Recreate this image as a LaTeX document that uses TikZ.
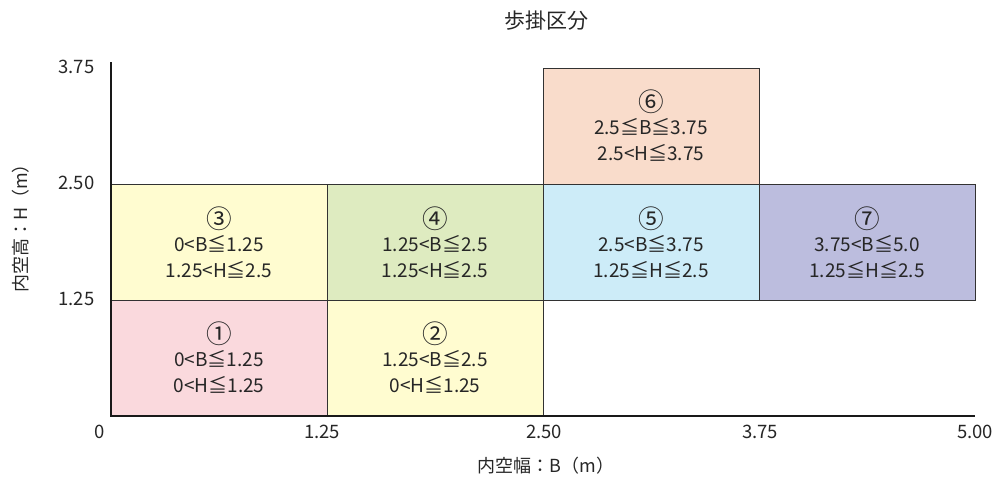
\documentclass[tikz,border=0pt]{standalone}
\usepackage{fontspec}
\setmainfont{Noto Sans CJK JP}
\definecolor{cpink}{RGB}{250,217,221}
\definecolor{cyel}{RGB}{255,252,208}
\definecolor{cgreen}{RGB}{222,235,192}
\definecolor{cblue}{RGB}{205,236,248}
\definecolor{cpeach}{RGB}{249,220,203}
\definecolor{cviolet}{RGB}{188,189,222}
\definecolor{cedge}{RGB}{50,50,50}
\newcommand{\cnum}[1]{\raisebox{-0.15em}{\scalebox{1.35}{#1}}}
\begin{document}
\begin{tikzpicture}[x=1pt,y=-1pt,
  cell/.style={draw=cedge,line width=0.9pt},
  celltext/.style={align=center,font=\fontsize{19}{26}\selectfont,text=black!85},
  tick/.style={font=\fontsize{18.5}{20}\selectfont,text=black!85},
  axlabel/.style={font=\fontsize{18}{22}\selectfont,text=black!85}]
\useasboundingbox (0,0) rectangle (999,479);
% boxes
\filldraw[cell,fill=cpink]  (111,300) rectangle (327,416);
\filldraw[cell,fill=cyel]   (327,300) rectangle (543,416);
\filldraw[cell,fill=cyel]   (111,184) rectangle (327,300);
\filldraw[cell,fill=cgreen] (327,184) rectangle (543,300);
\filldraw[cell,fill=cblue]  (543,184) rectangle (759,300);
\filldraw[cell,fill=cpeach] (543,68) rectangle (759,184);
\filldraw[cell,fill=cviolet](759,184) rectangle (975,300);
% texts
\node[celltext] (t1) at (219,358) {\cnum{①}\\0<B≦1.25\\0<H≦1.25};
\node[celltext] (t2) at (435,358) {\cnum{②}\\1.25<B≦2.5\\0<H≦1.25};
\node[celltext] (t3) at (219,243) {\cnum{③}\\0<B≦1.25\\1.25<H≦2.5};
\node[celltext] (t4) at (435,243) {\cnum{④}\\1.25<B≦2.5\\1.25<H≦2.5};
\node[celltext] (t5) at (651,243) {\cnum{⑤}\\2.5<B≦3.75\\1.25≦H≦2.5};
\node[celltext] (t6) at (651,126) {\cnum{⑥}\\2.5≦B≦3.75\\2.5<H≦3.75};
\node[celltext] (t7) at (867,243) {\cnum{⑦}\\3.75<B≦5.0\\1.25≦H≦2.5};
% axes
\coordinate (o) at (111,416);
\coordinate (ytop) at (111,62);
\coordinate (xend) at (975,416);
\draw[line width=2.4pt,black!90] (ytop) -- (o) -- (xend);
% ticks
\node[tick,anchor=east] (y1) at (98,299) {1.25};
\node[tick,anchor=east] (y2) at (98,183) {2.50};
\node[tick,anchor=east] (y3) at (98,67) {3.75};
\node[tick] (x0) at (100,432) {0};
\node[tick] (x1) at (322,432) {1.25};
\node[tick] (x2) at (544,432) {2.50};
\node[tick] (x3) at (760,432) {3.75};
\node[tick] (x4) at (975,432) {5.00};
% labels
\node[axlabel] (xl) at (546,466) {内空幅：B（m）};
\node[axlabel,rotate=90] (yl) at (21,224) {内空高：H（m）};
\node[axlabel,font=\fontsize{21}{24}\selectfont] (title) at (546,21) {歩掛区分};
\end{tikzpicture}
\end{document}
